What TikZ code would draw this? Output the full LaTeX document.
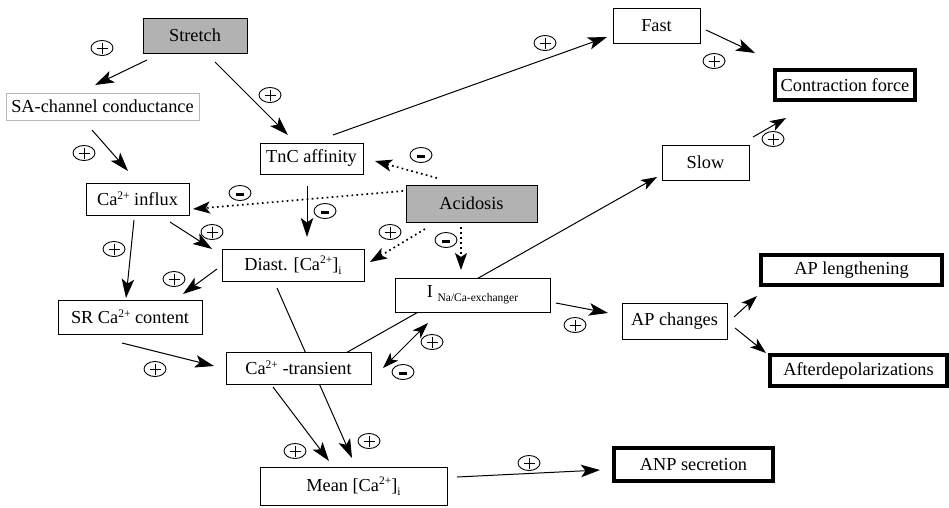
\documentclass[tikz,border=0pt]{standalone}
\usepackage{fontspec}
\setmainfont{Liberation Serif}
\usetikzlibrary{arrows.meta,shapes.geometric,backgrounds,calc}
\newcommand\spp[1]{\raisebox{6.5pt}{\fontsize{11.5}{12}\selectfont #1}}
\newcommand\sbb[1]{\raisebox{-4pt}{\fontsize{11.5}{12}\selectfont #1}}
\begin{document}
\begin{tikzpicture}[x=1pt,y=-1pt,
  box/.style={draw, fill=white, line width=1pt, inner sep=0pt, font=\fontsize{18.3}{22}\selectfont},
  sz/.style 2 args={minimum width=#1, minimum height=#2},
  thickbox/.style={box, line width=4.5pt},
  graybox/.style={box, fill=gray!60},
  arr/.style={line width=1pt, -{Stealth[length=19pt,width=12.5pt,inset=4.5pt]}},
  arrs/.style={line width=1pt, -{Stealth[length=16pt,width=11pt,inset=4pt]}},
  biarr/.style={line width=1pt, {Stealth[length=16pt,width=11pt,inset=4pt]}-{Stealth[length=16pt,width=11pt,inset=4pt]}},
  dotarr/.style={line width=1.7pt, dash pattern=on 1.7pt off 3.3pt, -{Stealth[length=17pt,width=12pt,inset=4pt]}},
  sgn/.style={ellipse, draw, line width=0.9pt, minimum width=22pt, minimum height=15pt, inner sep=0pt},
  plus/.style={sgn, path picture={
     \draw[line width=0.8pt] ($(path picture bounding box.center)+(-5.5,0)$) -- ++(11,0);
     \draw[line width=0.8pt] ($(path picture bounding box.center)+(0,-5.5)$) -- ++(0,11);}},
  minus/.style={sgn, path picture={
     \fill ($(path picture bounding box.center)+(-3.8,-0.3)$) rectangle ++(7.6,2.8);}}
]
\path[use as bounding box] (0,0) rectangle (949,507);

% nodes
\node[graybox, sz={104}{35}] (stretch) at (195,35.5) {Stretch};
\node[box, sz={193}{27}, draw=gray!55] (sa) at (102.5,106.5) {SA-channel conductance};
\node[box, sz={103}{31}] (tnc) at (311.5,158.5) {TnC affinity};
\node[box, sz={87}{35}] (fast) at (656.5,25.5) {Fast};
\node[thickbox, sz={140}{30}] (contr) at (845,85) {Contraction force};
\node[box, sz={87}{35}] (slow) at (705.5,162.5) {Slow};
\node[box, sz={103}{32}] (influx) at (137.5,199) {Ca\spp{2+} influx};
\node[graybox, sz={131}{37}] (acid) at (471.5,203.5) {Acidosis};
\node[box, sz={142}{32}] (diast) at (293,265) {Diast. [Ca\spp{2+}]\sbb{i}};
\node[box, sz={144}{34}] (sr) at (130,317) {SR Ca\spp{2+} content};
\node[box, sz={155}{34}] (inaca) at (472.5,295) {I \sbb{Na/Ca-exchanger}};
\node[box, sz={105}{36}] (apch) at (674.5,321) {AP changes};
\node[thickbox, sz={181}{30}] (aplen) at (851.5,270) {AP lengthening};
\node[thickbox, sz={177}{31}] (after) at (858.5,370.5) {Afterdepolarizations};
\node[box, sz={145}{32}] (catr) at (298.5,368) {Ca\spp{2+} -transient};
\node[box, sz={187}{38}] (mean) at (353.5,486) {Mean [Ca\spp{2+}]\sbb{i}};
\node[thickbox, sz={159}{33}] (anp) at (693.5,464.5) {ANP secretion};

% signs
\node[plus] (s1) at (102,48) {};
\node[plus] (s2) at (270,95) {};
\node[plus] (s3) at (84,153) {};
\node[plus] (s4) at (545,43) {};
\node[plus] (s5) at (714,61) {};
\node[plus] (s6) at (773,139) {};
\node[minus] (s7) at (421,155) {};
\node[minus] (s8) at (240,193) {};
\node[minus] (s9) at (325,211) {};
\node[plus] (s10) at (390,232) {};
\node[minus] (s11) at (446,240) {};
\node[plus] (s12) at (212,232) {};
\node[plus] (s13) at (114,249) {};
\node[plus] (s14) at (174,279) {};
\node[plus] (s15) at (155,369) {};
\node[plus] (s16) at (369,441) {};
\node[plus] (s17) at (295,451) {};
\node[plus] (s18) at (432,342) {};
\node[minus] (s19) at (403,372) {};
\node[plus] (s20) at (575,325) {};
\node[plus] (s21) at (529,463) {};

\begin{pgfonlayer}{background}
\draw[arr] ([shift={(-48,24.5)}]stretch.center) -- ([shift={(-7.5,-21.5)}]sa.center);
\draw[arr] ([shift={(20,26.5)}]stretch.center) -- ([shift={(-23.5,-23.5)}]tnc.center);
\draw[arr] ([shift={(-10.5,23.5)}]sa.center) -- ([shift={(-9.5,-28)}]influx.center);
\draw[arr] ([shift={(21.5,-23.5)}]tnc.center) -- ([shift={(-49.5,11.5)}]fast.center);
\draw[arr] ([shift={(49.5,4.5)}]fast.center) -- ([shift={(-90,-32)}]contr.center);
\draw[arrs] ([shift={(47.5,-25.5)}]slow.center) -- ([shift={(-59,33)}]contr.center);
\draw[dotarr] ([shift={(-34.5,-25.5)}]acid.center) -- ([shift={(63.5,2.5)}]tnc.center);
\draw[dotarr] ([shift={(-68.5,-12.5)}]acid.center) -- ([shift={(55.5,10)}]influx.center);
\draw[arr] ([shift={(-4.5,27.5)}]tnc.center) -- ([shift={(14,-28)}]diast.center);
\draw[dotarr] ([shift={(-46.5,25.5)}]acid.center) -- ([shift={(77,-3)}]diast.center);
\draw[dotarr] ([shift={(-10.5,23.5)}]acid.center) -- ([shift={(-11.5,-25)}]inaca.center);
\draw[arr] ([shift={(32.5,23)}]influx.center) -- ([shift={(-81,-16)}]diast.center);
\draw[arr] ([shift={(-3.5,21)}]influx.center) -- ([shift={(-4,-19)}]sr.center);
\draw[arr] ([shift={(-76,4)}]diast.center) -- ([shift={(53,-23)}]sr.center);
\draw[arr] ([shift={(-8,26)}]sr.center) -- ([shift={(-84.5,-2)}]catr.center);
\draw[arr] ([shift={(-16,23)}]diast.center) -- ([shift={(-1.5,-28)}]mean.center);
\draw[arrs] ([shift={(45.5,-14)}]catr.center) -- ([shift={(-48.5,14.5)}]slow.center);
\draw[arr] ([shift={(-25.5,19)}]catr.center) -- ([shift={(-24.5,-25)}]mean.center);
\draw[biarr] ([shift={(84.5,0)}]catr.center) -- ([shift={(-44.5,28)}]inaca.center);
\draw[arr] ([shift={(83.5,8)}]inaca.center) -- ([shift={(-66.5,-8)}]apch.center);
\draw[arrs] ([shift={(59.5,-4)}]apch.center) -- ([shift={(-94.5,26)}]aplen.center);
\draw[arrs] ([shift={(60.5,7)}]apch.center) -- ([shift={(-92.5,-17.5)}]after.center);
\draw[arr] ([shift={(103.5,-9)}]mean.center) -- ([shift={(-93.5,5.5)}]anp.center);
\end{pgfonlayer}
\end{tikzpicture}
\end{document}
